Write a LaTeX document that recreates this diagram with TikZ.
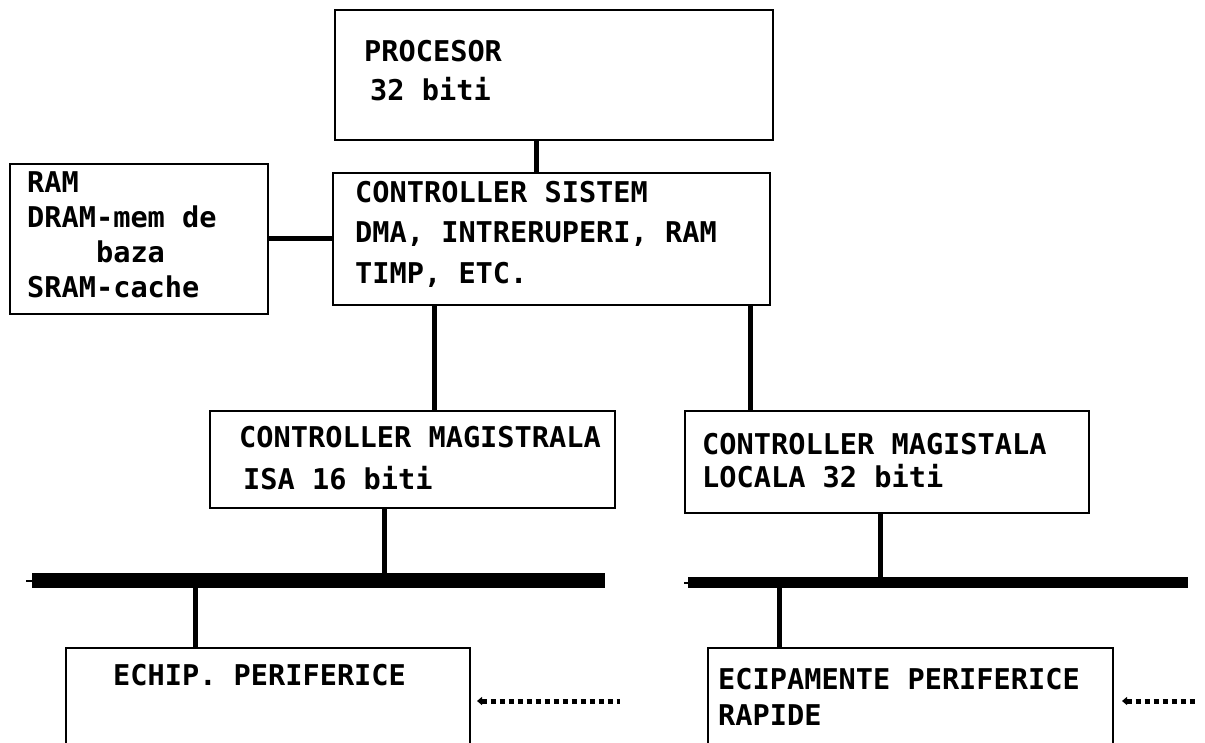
\documentclass[tikz,border=0pt]{standalone}
\usepackage{fontspec}
\setmonofont{DejaVu Sans Mono}
\usetikzlibrary{arrows.meta,positioning}

\begin{document}
\begin{tikzpicture}[x=1pt,y=-1pt,
  box/.style={draw,line width=1.8pt,anchor=north west,inner sep=0pt},
  txt/.style={anchor=base west,inner sep=0pt,align=left,
    font=\ttfamily\bfseries\fontsize{28.6}{39}\selectfont},
  wire/.style={line width=5pt},
  bus/.style={draw=none,fill,anchor=north west,inner sep=0pt},
  tick/.style={line width=2pt},
  dots/.style={line width=5pt,dash pattern=on 5pt off 4pt,{Triangle[length=5pt,width=8pt]}-}]
  \useasboundingbox (0,0) rectangle (1205,742);
  \clip (0,0) rectangle (1205,742);
  % boxes
  \node[box,minimum width=438pt,minimum height=130pt] (proc) at (334,9) {};
  \node[box,minimum width=437pt,minimum height=132pt] (cs) at (332,172) {};
  \node[box,minimum width=258pt,minimum height=150pt] (ram) at (9,163) {};
  \node[box,minimum width=405pt,minimum height=97pt] (isa) at (209,410) {};
  \node[box,minimum width=404pt,minimum height=102pt] (loc) at (684,410) {};
  \node[box,minimum width=404pt,minimum height=130pt] (echip) at (65,647) {};
  \node[box,minimum width=405pt,minimum height=130pt] (ecip) at (707,647) {};
  % texts (anchored at the baseline of the last line)
  \node[txt] (proctxt) at (364,100) {PROCESOR\\\hspace*{6pt}32 biti};
  \node[txt,font=\ttfamily\bfseries\fontsize{28.6}{40.5}\selectfont] (cstxt) at (355,283)
    {CONTROLLER SISTEM\\DMA, INTRERUPERI, RAM\\TIMP, ETC.};
  \node[txt,font=\ttfamily\bfseries\fontsize{28.6}{34.7}\selectfont] (ramtxt) at (27,297)
    {RAM\\DRAM-mem de\\\phantom{DRAM}baza\\SRAM-cache};
  \node[txt,font=\ttfamily\bfseries\fontsize{28.6}{42}\selectfont] (isatxt) at (239,489)
    {CONTROLLER MAGISTRALA\\\hspace*{4pt}ISA 16 biti};
  \node[txt,font=\ttfamily\bfseries\fontsize{28.6}{33}\selectfont] (loctxt) at (702,487)
    {CONTROLLER MAGISTALA\\LOCALA 32 biti};
  \node[txt] (echiptxt) at (113,685) {ECHIP. PERIFERICE};
  \node[txt,font=\ttfamily\bfseries\fontsize{28.6}{36}\selectfont] (eciptxt) at (718,725)
    {ECIPAMENTE PERIFERICE\\RAPIDE};
  % buses
  \node[bus,minimum width=573pt,minimum height=15pt] (busisa) at (32,573) {};
  \node[bus,minimum width=500pt,minimum height=11pt] (busloc) at (688,577) {};
  \draw[tick] (busisa.west) -- ++(-6,0);
  \draw[tick] (busloc.west) -- ++(-4,0);
  % connections
  \draw[wire] (proc.south -| 536,0) -- (cs.north -| 536,0);
  \draw[wire] (ram.east) -- (ram.east -| cs.west);
  \draw[wire] (cs.south -| 434,0) -- (isa.north -| 434,0);
  \draw[wire] (cs.south -| 750,0) -- (loc.north -| 750,0);
  \draw[wire] (isa.south -| 384,0) -- (busisa.north -| 384,0);
  \draw[wire] (loc.south -| 880,0) -- (busloc.north -| 880,0);
  \draw[wire] (busisa.south -| 195,0) -- (echip.north -| 195,0);
  \draw[wire] (busloc.south -| 779,0) -- (ecip.north -| 779,0);
  % continuation dots
  \coordinate (moreisa) at (477,701);
  \coordinate (moreloc) at (1122,701);
  \draw[dots] (moreisa) -- ++(143,0);
  \draw[dots] (moreloc) -- ++(73,0);
\end{tikzpicture}
\end{document}
